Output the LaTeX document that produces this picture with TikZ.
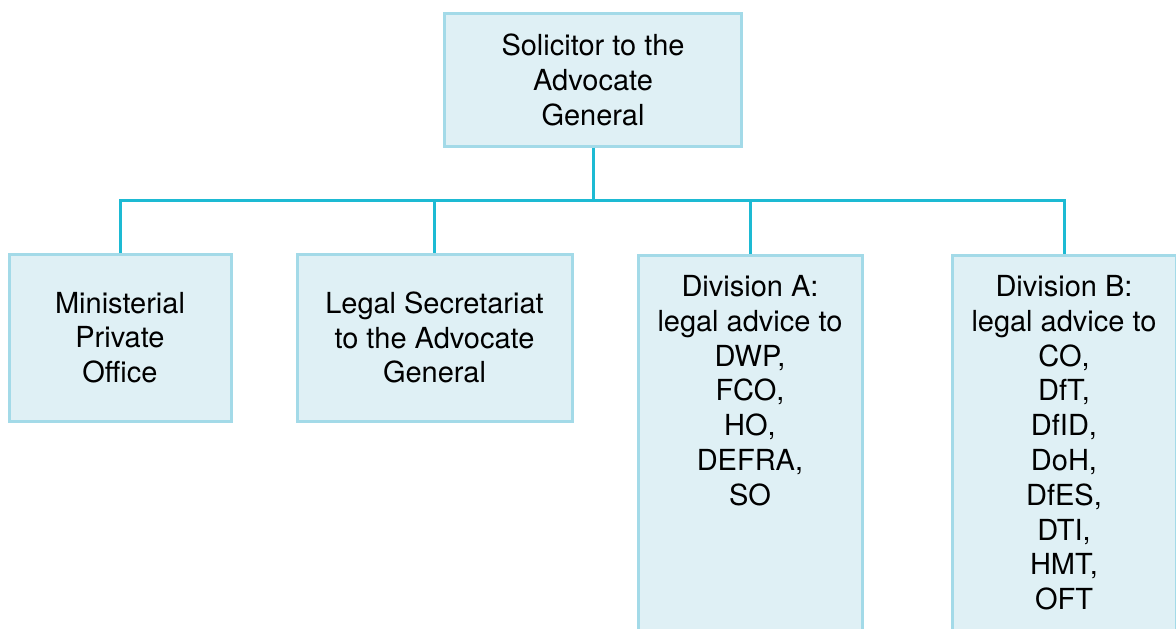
\documentclass[tikz,border=0pt]{standalone}
\usepackage{fontspec}
\setmainfont{TeX Gyre Heros}
\usepackage{tikz}
\usetikzlibrary{positioning}
\definecolor{boxfill}{HTML}{DFF0F5}
\definecolor{boxline}{HTML}{A3DAE8}
\definecolor{linkcol}{HTML}{1DBAD3}
\tikzset{
  unit/.style={draw=boxline,fill=boxfill,line width=1.5pt,inner sep=0pt,
    align=center,font=\fontsize{14.5}{17.4}\selectfont},
  tall/.style={unit,anchor=north,minimum width=112pt,minimum height=200pt},
  blurb/.style={inner sep=0pt,align=center,font=\fontsize{14.5}{17.4}\selectfont},
  link/.style={draw=linkcol,line width=1.5pt}
}

\begin{document}
\begin{tikzpicture}[x=0.5pt,y=0.5pt]
    \clip (0,0) rectangle (1176,628);
    \node[unit,minimum width=148.5pt,minimum height=66pt] (sag) at (593,548)
    {Solicitor to the\\Advocate\\General};
    \node[unit,minimum width=111pt,minimum height=83.5pt] (mpo) at (120,290.5)
    {Ministerial\\Private\\Office};
    \node[unit,minimum width=137.5pt,minimum height=83.5pt] (lsag) at (434.5,290.5)
    {Legal Secretariat\\to the Advocate\\General};
    \node[tall] (diva) at (750,374) {}; \node[blurb,below=10.5pt of diva.north]
    (divatext) {Division A:\\legal advice to\\DWP,\\FCO,\\HO,\\DEFRA,\\SO};
    \node[tall] (divb) at (1064,374) {}; \node[blurb,below=10.5pt of divb.north]
    (divbtext) {Division B:\\legal advice to\\CO,\\DfT,\\DfID,\\DoH,\\DfES,\\DTI,\\HMT,\\OFT};
    \coordinate (split) at (593,428);
    \draw[link] (sag.south) -- (split);
    \foreach \n in {mpo,lsag,diva,divb} \draw[link] (split) -| (\n.north);
  \end{tikzpicture}
\end{document}
